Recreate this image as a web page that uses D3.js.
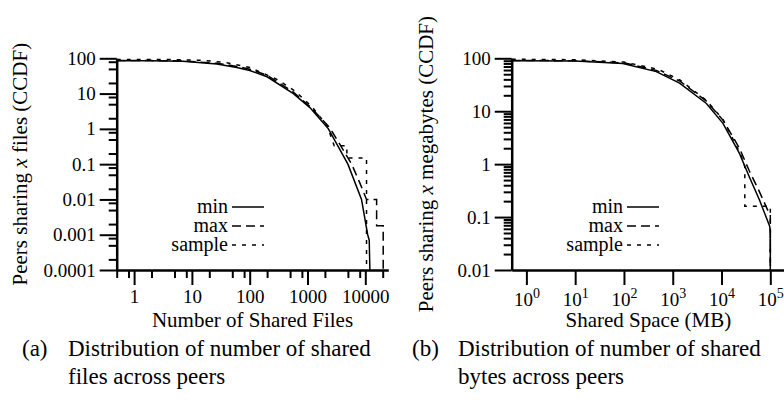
<!DOCTYPE html>
<html>
<head>
<meta charset="utf-8">
<script src="https://cdn.jsdelivr.net/npm/d3@7"></script>
<style>
  body { margin: 0; background: #fff; }
  svg { display: block; }
  svg text { font-family: 'Liberation Serif', 'Times New Roman', Times, serif !important; fill: #000; }
  .domain { stroke: #000; stroke-width: 2.5; }
  .tick line { stroke: #000; stroke-width: 2; }
</style>
</head>
<body>
<svg id="chart" width="784" height="407" font-family="Liberation Serif"></svg>
<script>
// (a) number of shared files, CCDF in percent
const filesMinX = [0.5, 2, 7, 27, 60, 100, 200, 570, 1100, 2300, 5000, 8600, 11000, 11700, 12000]
const filesMinY = [85, 85, 82, 69, 55, 45, 30, 10, 4, 1, 0.1, 0.01, 0.001, 0.0007, 0.0001]
const filesMaxX = [0.5, 2, 7, 27, 60, 100, 200, 570, 1100, 2400, 3500, 5800, 8000, 10500, 15700, 15700, 20400, 20400]
const filesMaxY = [86, 86, 84, 72, 59, 49, 33, 11, 4.3, 1.1, 0.4, 0.1, 0.03, 0.01, 0.01, 0.0018, 0.0018, 0.0001]
const filesSampleX = [0.5, 5, 15, 40, 100, 300, 600, 1200, 2200, 2900, 4800, 4800, 10500, 10500]
const filesSampleY = [92, 92, 88, 75, 55, 25, 12, 4.2, 1.2, 0.33, 0.33, 0.15, 0.15, 0.0001]

// (b) shared space in MB, CCDF in percent
const spaceMinX = [0.5, 10, 95, 460, 1380, 4900, 10700, 23300, 37000, 60000, 97000, 100000, 100000]
const spaceMinY = [90, 89, 80, 56, 34, 14, 5.9, 1.6, 0.58, 0.21, 0.067, 0.055, 0.01]
const spaceMaxX = [0.5, 10, 100, 460, 1400, 4900, 10700, 23300, 37000, 60000, 90000, 100000, 100000]
const spaceMaxY = [91, 90, 82, 59, 37, 15.5, 6.8, 2, 0.75, 0.3, 0.13, 0.11, 0.01]
const spaceSampleX = [0.5, 10, 100, 500, 1400, 4900, 10700, 25000, 30000, 30000, 100000, 100000]
const spaceSampleY = [96, 94, 85, 62, 39, 16, 7, 1.5, 0.9, 0.16, 0.16, 0.01]

const legendNames = ['min', 'max', 'sample']
const dashes = { min: null, max: '9,5', sample: '4,6' }

const filesXMajor = [1, 10, 100, 1000, 10000]
const filesYMajor = [0.0001, 0.001, 0.01, 0.1, 1, 10, 100]
const filesYLabels = ['0.0001', '0.001', '0.01', '0.1', '1', '10', '100']
const spaceXMajor = [1, 10, 100, 1000, 10000, 100000]
const spaceYMajor = [0.01, 0.1, 1, 10, 100]
const spaceYLabels = ['0.01', '0.1', '1', '10', '100']

const svg = d3.select('#chart')

// minor ticks at given multipliers of each decade, inside the domain
const minorTicks = (lo, hi, mults) => {
  const out = []
  for (let e = Math.floor(Math.log10(lo)) - 1; e <= Math.ceil(Math.log10(hi)); e++) {
    mults.forEach(m => {
      const v = m * Math.pow(10, e)
      if (v >= lo * 0.999 && v <= hi * 1.001) out.push(v)
    })
  }
  return out
}

const drawPanel = (opt) => {
  const g = svg.append('g')
  const x = d3.scaleLog().domain(opt.xDomain).range(opt.xRange)
  const y = d3.scaleLog().domain(opt.yDomain).range(opt.yRange)
  const y0 = opt.yRange[0], x0 = opt.xRange[0]

  // minor ticks first, then majors with labels
  g.append('g').attr('transform', `translate(0,${y0})`)
    .call(d3.axisBottom(x).tickValues(opt.xMinor).tickSize(8).tickSizeOuter(0).tickFormat(''))
    .select('.domain').remove()
  g.append('g').attr('transform', `translate(${x0},0)`)
    .call(d3.axisLeft(y).tickValues(opt.yMinor).tickSize(8).tickSizeOuter(0).tickFormat(''))
    .select('.domain').remove()

  const xAxis = g.append('g').attr('transform', `translate(0,${y0})`)
    .call(d3.axisBottom(x).tickValues(opt.xMajor).tickSize(15).tickSizeOuter(0).tickFormat(''))
  const yAxis = g.append('g').attr('transform', `translate(${x0},0)`)
    .call(d3.axisLeft(y).tickValues(opt.yMajor).tickSize(17).tickSizeOuter(0)
      .tickFormat((d, i) => opt.yLabels[i]))
  yAxis.selectAll('.tick text').attr('font-size', 19).attr('x', -21)

  // x tick labels
  const xl = xAxis.selectAll('.tick').append('text')
    .attr('y', opt.xLabelY).attr('text-anchor', 'middle').attr('font-size', 19)
  if (opt.powers) {
    xl.text('10').append('tspan').attr('dy', -8).attr('font-size', 14)
      .text(d => Math.round(Math.log10(d)))
  } else {
    xl.text(d => d)
  }

  // curves
  const line = d3.line().x(d => x(d[0])).y(d => y(d[1]))
  opt.series.forEach(s => {
    g.append('path')
      .datum(d3.zip(s.xs, s.ys))
      .attr('fill', 'none').attr('stroke', '#000').attr('stroke-width', 1.5)
      .attr('stroke-dasharray', dashes[s.name])
      .attr('d', line)
  })

  // legend
  legendNames.forEach((n, i) => {
    const ly = 207 + i * 19
    g.append('text').attr('x', opt.legendX).attr('y', ly + 6)
      .attr('text-anchor', 'end').attr('font-size', 20).text(n)
    g.append('line').attr('x1', opt.legendX + 4).attr('x2', opt.legendX + 36)
      .attr('y1', ly).attr('y2', ly)
      .attr('stroke', '#000').attr('stroke-width', 1.5).attr('stroke-dasharray', dashes[n])
  })

  // axis titles
  g.append('text').attr('x', (opt.xRange[0] + opt.xRange[1]) / 2).attr('y', 327)
    .attr('text-anchor', 'middle').attr('font-size', 21).text(opt.xTitle)
  const yt = g.append('text')
    .attr('transform', `translate(${opt.yTitleX},${(y0 + opt.yRange[1]) / 2}) rotate(-90)`)
    .attr('text-anchor', 'middle').attr('font-size', 21)
  yt.append('tspan').text('Peers sharing ')
  yt.append('tspan').attr('font-style', 'italic').text('x')
  yt.append('tspan').text(' ' + opt.yWord + ' (CCDF)')

  // caption
  const cap = g.append('g')
  cap.append('text').attr('x', opt.capX).attr('y', 356).attr('font-size', 23).text(opt.capTag)
  cap.append('text').attr('x', opt.capX + 46).attr('y', 356).attr('font-size', 23)
    .text('Distribution of number of shared')
  cap.append('text').attr('x', opt.capX + 46).attr('y', 384).attr('font-size', 23)
    .text(opt.capLine2)
}

drawPanel({
  xDomain: [0.5, 25000], xRange: [116.7, 388.3],
  yDomain: [0.0001, 100], yRange: [270, 58.3],
  xMajor: filesXMajor, yMajor: filesYMajor, yLabels: filesYLabels,
  xMinor: minorTicks(0.5, 25000, [2, 5, 8]), yMinor: minorTicks(0.0001, 100, [2, 5, 8]),
  xLabelY: 33, powers: false,
  series: [
    { name: 'min', xs: filesMinX, ys: filesMinY },
    { name: 'max', xs: filesMaxX, ys: filesMaxY },
    { name: 'sample', xs: filesSampleX, ys: filesSampleY }
  ],
  legendX: 228, xTitle: 'Number of Shared Files', yTitleX: 27, yWord: 'files',
  capX: 22, capTag: '(a)', capLine2: 'files across peers'
})

drawPanel({
  xDomain: [0.5, 200000], xRange: [511.7, 785],
  yDomain: [0.01, 100], yRange: [270, 58.3],
  xMajor: spaceXMajor, yMajor: spaceYMajor, yLabels: spaceYLabels,
  xMinor: [], yMinor: minorTicks(0.01, 100, [2, 3, 4, 5, 6, 7, 8, 9]),
  xLabelY: 36, powers: true,
  series: [
    { name: 'min', xs: spaceMinX, ys: spaceMinY },
    { name: 'max', xs: spaceMaxX, ys: spaceMaxY },
    { name: 'sample', xs: spaceSampleX, ys: spaceSampleY }
  ],
  legendX: 623, xTitle: 'Shared Space (MB)', yTitleX: 433, yWord: 'megabytes',
  capX: 412, capTag: '(b)', capLine2: 'bytes across peers'
})
</script>
</body>
</html>
